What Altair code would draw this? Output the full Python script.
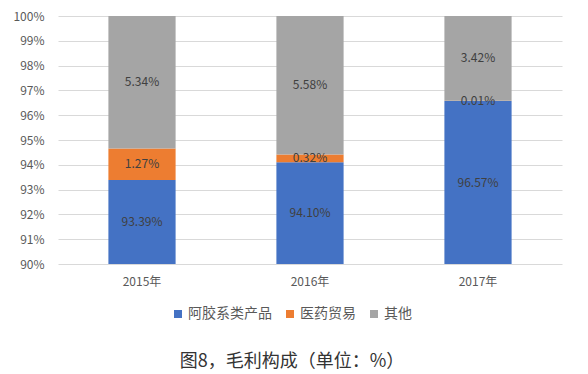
import altair as alt
import pandas as pd

years = ["2015年", "2016年", "2017年"]
series = ["阿胶系类产品", "医药贸易", "其他"]
colors = ["#4472C4", "#ED7D31", "#A5A5A5"]
values = {
    "阿胶系类产品": [93.39, 94.10, 96.57],
    "医药贸易": [1.27, 0.32, 0.01],
    "其他": [5.34, 5.58, 3.42],
}
y_ticks = [90, 91, 92, 93, 94, 95, 96, 97, 98, 99, 100]
FLOOR = 90

rows = []
for i, yr in enumerate(years):
    cum = 0.0
    for k, s in enumerate(series):
        v = values[s][i]
        start, end = cum, cum + v
        cum = end
        lo = max(start, FLOOR)
        rows.append({
            "year": yr, "series": s, "order": k, "value": v,
            "start": start, "end": end,
            "mid": (lo + end) / 2,
            "label": f"{v:.2f}%",
        })
df = pd.DataFrame(rows)

FONT = "Noto Sans CJK SC"

xaxis = alt.Axis(labelAngle=0, labelColor="#595959", labelFontSize=12,
                 labelFont=FONT, ticks=False, domain=False, labelPadding=12)
yaxis = alt.Axis(values=y_ticks, labelExpr="datum.value + '%'",
                 labelColor="#595959", labelFontSize=12, labelFont=FONT,
                 labelOverlap=False, ticks=False, domain=False,
                 gridColor="#D9D9D9", labelPadding=14)
xscale = alt.Scale(paddingInner=0.6, paddingOuter=0.3)
yscale = alt.Scale(domain=[90, 100], nice=False, zero=False)

base = alt.Chart(df)

bars = base.mark_bar(clip=True).encode(
    x=alt.X("year:N", sort=years, title=None, scale=xscale, axis=xaxis),
    y=alt.Y("start:Q", scale=yscale, title=None, axis=yaxis),
    y2="end:Q",
    color=alt.Color("series:N", sort=series,
                    scale=alt.Scale(domain=series, range=colors),
                    legend=alt.Legend(title=None, orient="none", direction="horizontal",
                                      legendX=113, legendY=291, symbolType="square",
                                      symbolSize=64, symbolStrokeWidth=0,
                                      labelFontSize=14, labelFont=FONT,
                                      labelColor="#595959", columnPadding=11,
                                      symbolOffset=0, labelOffset=3)),
)

labels = base.mark_text(fontSize=12, font=FONT, color="#404040").encode(
    x=alt.X("year:N", sort=years, title=None, scale=xscale, axis=xaxis),
    y=alt.Y("mid:Q", scale=yscale, title=None, axis=yaxis),
    text="label:N",
)

chart = (bars + labels).properties(
    width=504, height=248,
    autosize=alt.AutoSizeParams(type="none"),
    padding={"left": 50, "top": 8, "right": 18, "bottom": 110},
    title=alt.TitleParams("图8，毛利构成（单位：%）", orient="bottom", anchor="middle",
                          fontSize=18, font=FONT, fontWeight="normal",
                          color="#333333", offset=32, dx=-18),
).configure_view(stroke=None)

chart.save("out.html", embed_options={"renderer": "svg", "actions": False})
